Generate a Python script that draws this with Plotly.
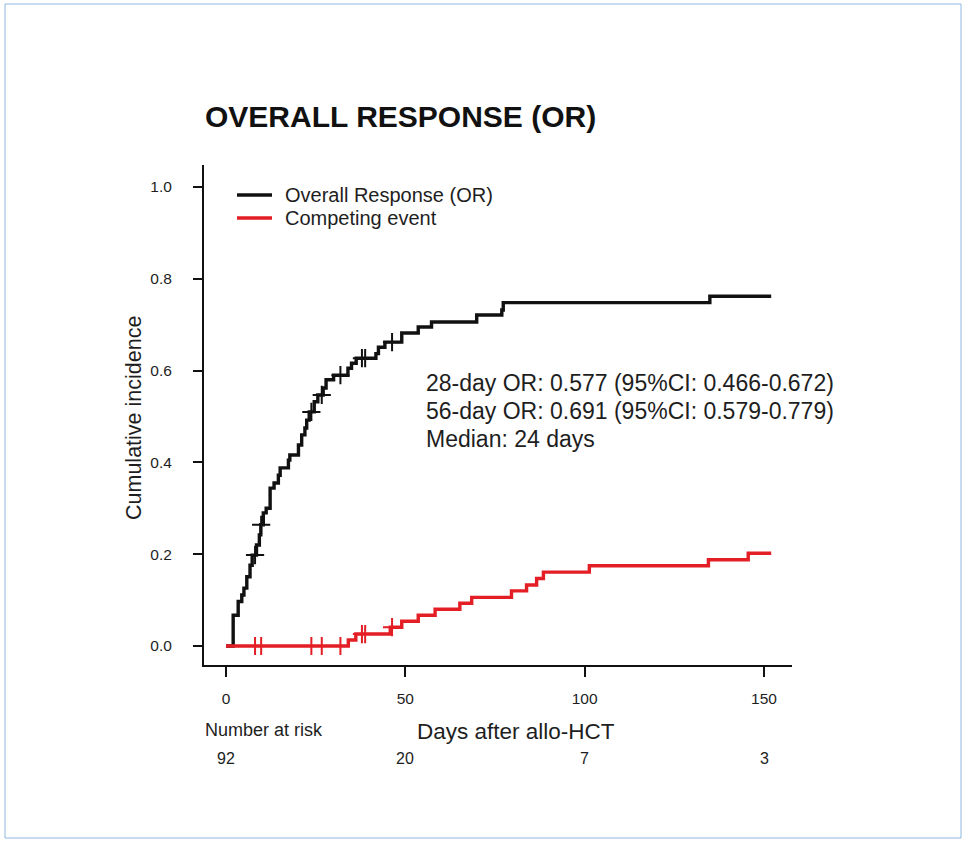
import numpy as np
import plotly.graph_objects as go

# ---------------- data ----------------
or_time = [0, 2.0, 3.4, 4.4, 5.0, 5.8, 6.7, 7.3, 8.5, 9.3, 9.7, 10.4, 11.2, 12.3, 13.4,
           14.6, 15.1, 17.4, 17.8, 20.2, 21.1, 22.0, 22.5, 23.2, 24.6, 25.6, 27.1, 27.9,
           30.0, 34.0, 35.0, 36.3, 41.8, 42.5, 44.3, 49.0, 53.6, 57.3, 69.9, 76.9, 77.3,
           134.9, 152]
or_cif = [0, 0.067, 0.097, 0.111, 0.126, 0.151, 0.176, 0.198, 0.22, 0.242, 0.264, 0.29,
          0.3, 0.344, 0.355, 0.372, 0.388, 0.405, 0.416, 0.438, 0.46, 0.475, 0.492, 0.51,
          0.532, 0.547, 0.562, 0.58, 0.59, 0.605, 0.616, 0.627, 0.637, 0.651, 0.662, 0.682,
          0.695, 0.706, 0.721, 0.732, 0.748, 0.762, 0.762]

ce_time = [0, 34.1, 36.2, 45.8, 49.0, 53.6, 58.3, 65.2, 68.5, 79.6, 83.8, 86.6, 88.5,
           101.3, 134.5, 145.6, 152]
ce_cif = [0, 0.013, 0.026, 0.041, 0.054, 0.067, 0.08, 0.093, 0.106, 0.12, 0.133, 0.147,
          0.161, 0.175, 0.188, 0.202, 0.202]

censor_time = [8.1, 9.8, 23.8, 26.7, 31.9, 37.9, 38.8, 46.3]

x_ticks = [0, 50, 100, 150]
y_ticks = [0.0, 0.2, 0.4, 0.6, 0.8, 1.0]
risk_numbers = ["92", "20", "7", "3"]

series_names = ["Overall Response (OR)", "Competing event"]
stats_lines = ["28-day OR: 0.577 (95%CI: 0.466-0.672)",
               "56-day OR: 0.691 (95%CI: 0.579-0.779)",
               "Median: 24 days"]

# ---------------- layout helpers ----------------
W, H = 966, 841
L, R, T, B = 204, 174, 165, 176
PW, PH = W - L - R, H - T - B


def px(x):
    return (x - L) / PW


def py(y):
    return (H - B - y) / PH


def step_value(times, vals, t):
    idx = np.searchsorted(np.asarray(times), t, side="right") - 1
    return float(np.asarray(vals)[idx])


BLACK = "#111111"
RED = "#E31E24"
TXT = "#1e1e1e"
FONT = "Liberation Sans, Arial, sans-serif"
colors = [BLACK, RED]

fig = go.Figure()

fig.add_trace(go.Scatter(x=or_time, y=or_cif, mode="lines", line_shape="hv",
                         line=dict(color=BLACK, width=3.4), name=series_names[0]))
fig.add_trace(go.Scatter(x=ce_time, y=ce_cif, mode="lines", line_shape="hv",
                         line=dict(color=RED, width=3.4), name=series_names[1]))

or_c = [step_value(or_time, or_cif, t) for t in censor_time]
ce_c = [step_value(ce_time, ce_cif, t) for t in censor_time]
fig.add_trace(go.Scatter(x=censor_time, y=or_c, mode="markers", showlegend=False,
                         marker=dict(symbol="cross-thin", size=13,
                                     line=dict(color=BLACK, width=2))))
fig.add_trace(go.Scatter(x=censor_time, y=ce_c, mode="markers", showlegend=False,
                         marker=dict(symbol="cross-thin", size=13,
                                     line=dict(color=RED, width=2))))

annotations = []
shapes = [dict(type="rect", xref="paper", yref="paper", x0=px(5), x1=px(961),
               y0=py(838), y1=py(4), line=dict(color="#8FB8E0", width=1))]

# legend (keys drawn as short lines with labels)
for i, (name, col) in enumerate(zip(series_names, colors)):
    yy = 195 + 23 * i
    shapes.append(dict(type="line", xref="paper", yref="paper", x0=px(237), x1=px(272),
                       y0=py(yy), y1=py(yy), line=dict(color=col, width=3.4)))
    annotations.append(dict(text=name, x=px(283), y=py(yy), xref="paper", yref="paper",
                            xanchor="left", yanchor="middle", showarrow=False,
                            font=dict(size=20, color=TXT, family=FONT)))

annotations.append(dict(text="<b>OVERALL RESPONSE (OR)</b>", x=px(400), y=py(117),
                        xref="paper", yref="paper", xanchor="center", yanchor="middle",
                        showarrow=False, font=dict(size=30, color=BLACK, family=FONT)))
for i, s in enumerate(stats_lines):
    annotations.append(dict(text=s, x=px(424), y=py(383 + 28 * i), xref="paper", yref="paper",
                            xanchor="left", yanchor="middle", showarrow=False,
                            font=dict(size=23, color=TXT, family=FONT)))
annotations.append(dict(text="Cumulative incidence", x=px(134), y=py(418), xref="paper",
                        yref="paper", xanchor="center", yanchor="middle", textangle=-90,
                        showarrow=False, font=dict(size=21.5, color=TXT, family=FONT)))
annotations.append(dict(text="Days after allo-HCT", x=px(516), y=py(731), xref="paper",
                        yref="paper", xanchor="center", yanchor="middle",
                        showarrow=False, font=dict(size=22.5, color=TXT, family=FONT)))
annotations.append(dict(text="Number at risk", x=px(203), y=py(730), xref="paper",
                        yref="paper", xanchor="left", yanchor="middle",
                        showarrow=False, font=dict(size=18, color=TXT, family=FONT)))
for xt, n in zip(x_ticks, risk_numbers):
    annotations.append(dict(text=n, x=xt, y=py(758), xref="x", yref="paper",
                            xanchor="center", yanchor="middle", showarrow=False,
                            font=dict(size=16, color=TXT, family=FONT)))

x0_data = -22 / 3.5867
x1_data = 566 / 3.5867
fig.update_layout(
    width=W, height=H,
    margin=dict(l=L, r=R, t=T, b=B),
    paper_bgcolor="white", plot_bgcolor="white",
    font=dict(family=FONT, color=TXT),
    showlegend=False,
    xaxis=dict(range=[x0_data, x1_data], tickvals=x_ticks, ticks="outside", ticklen=10,
               tickwidth=1.5, tickcolor=BLACK, showline=True, linecolor=BLACK, linewidth=2,
               showgrid=False, zeroline=False, tickfont=dict(size=15.5, color=TXT),
               ticklabelstandoff=8),
    yaxis=dict(range=[-19 / 459, 481 / 459], tickvals=y_ticks, tickformat=".1f",
               ticks="outside", ticklen=9, tickwidth=1.5, tickcolor=BLACK, showline=True,
               linecolor=BLACK, linewidth=2, showgrid=False, zeroline=False,
               tickfont=dict(size=15.5, color=TXT), ticklabelstandoff=18),
    annotations=annotations,
    shapes=shapes,
)

fig.write_html("out.html")
